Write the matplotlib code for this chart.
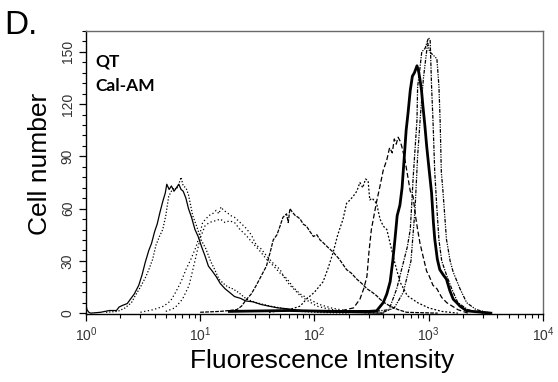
import matplotlib
matplotlib.use('Agg')
import matplotlib.pyplot as plt
from matplotlib.ticker import LogLocator, MultipleLocator, FixedLocator

# histogram curves (x = intensity, y = cell count)
x_neg = [1.0, 1.02, 1.06, 1.1, 1.35, 1.6, 1.85, 1.95, 2.1, 2.3, 2.45, 2.65, 2.9, 3.1, 3.3, 3.55, 3.75, 4.0,
         4.2, 4.45, 4.7, 4.95, 5.1, 5.35, 5.6, 5.9, 6.2, 6.5, 6.8, 7.1, 7.5, 7.9, 8.4, 9.0, 9.6, 10.3,
         11.0, 11.8, 12.8, 13.8, 15.0, 16.5, 18.0, 20.0, 22.5, 25, 29, 34, 40, 48, 58, 70, 85, 110, 150, 220, 400]
y_neg = [5, 2, 0.5, 0, 0.5, 1.5, 1.5, 3.5, 4.5, 5.5, 8, 11, 16, 22, 29, 36, 40, 47,
         51, 58, 64, 69, 74, 71, 73, 70, 72, 74, 71, 70, 66, 60, 55, 48, 44, 38,
         33, 27, 24, 21, 17, 14, 12, 9.5, 8.5, 7, 6.5, 5, 4, 3, 2.5, 1.8, 1.2, 0.8, 0.5, 0.3, 0]

x_dot1 = [1.5, 1.9, 2.2, 2.5, 2.7, 3.0, 3.35, 3.6, 3.84, 4.1, 4.4, 4.7, 5.0, 5.3, 5.6, 5.9, 6.2, 6.5, 6.8,
          7.1, 7.5, 7.9, 8.6, 9.3, 10.2, 11.2, 12.3, 13.4, 14.6, 16.0, 17.5, 19.2, 21.5, 25.5, 31, 41, 55, 75, 110, 200]
y_dot1 = [0.5, 1, 3, 6, 10, 15, 21, 26, 31, 39, 44, 48, 56, 67, 70, 72, 71, 74, 78,
          73, 72, 68, 56, 50, 42, 37, 30, 25, 19.5, 17, 15, 14, 12, 8, 6, 4, 2.5, 1, 0.4, 0]

x_dot2 = [3.0, 3.9, 4.8, 5.5, 6.1, 6.8, 7.5, 8.3, 9.2, 9.9, 10.5, 11.2, 11.9, 12.8, 13.8, 14.6, 15.2, 16.0,
          17.0, 18.5, 20, 22.4, 25, 28, 31, 34, 38, 43, 50, 55, 61, 68, 75, 88, 105, 130, 168, 250, 400]
y_dot2 = [0.5, 2, 4, 7, 12, 18, 25, 31, 38, 45, 52, 54, 56, 57, 59, 57, 61, 59,
          58, 56, 55, 52, 49, 45, 39, 37, 33, 29, 25, 20, 16, 13, 10, 7, 4, 2.5, 1.3, 0.5, 0]

x_dot3 = [5, 6, 7, 8, 9, 10, 11, 12, 13.5, 15, 16.5, 18, 20, 22.3, 25, 29, 33, 38, 44, 50, 57, 65, 75,
          90, 110, 140, 200, 300]
y_dot3 = [1, 3, 8, 16, 30, 43, 50, 52, 53, 54, 52, 53, 52, 48, 45, 40, 36, 31, 27, 23, 20, 15, 11,
          8, 5, 3, 1, 0]

x_mid = [10, 15, 18, 20.9, 23, 25.5, 28, 31, 34, 38, 41, 43.6, 47, 50, 53, 57, 59, 61, 64, 68, 72, 75, 80,
         85, 91, 98, 105, 112, 119, 130, 146, 165, 191, 210, 235, 260, 288, 320, 350, 375, 410, 460, 540,
         640, 800, 1200]
y_mid = [0.5, 1, 1.5, 2, 4, 8, 11, 16, 21, 27, 35, 42, 45, 50, 55, 57, 52, 60, 58, 56, 55, 54, 51,
         50, 47, 44, 45, 42, 40.5, 38, 35, 31, 25, 23, 19.5, 17, 14, 12, 10, 8, 6, 4, 2,
         0.5, 0.3, 0]

x_dot4 = [40, 60, 75, 85, 100, 119, 132, 146, 160, 178, 191, 205, 218, 235, 250, 265, 280, 295, 305, 320,
          350, 375, 400, 430, 460, 500, 560, 650, 800, 1000, 1300, 1800]
y_dot4 = [0.5, 2, 4, 8, 12, 18, 26, 35, 45, 54, 63, 65, 67, 70, 75, 72, 77, 76, 65, 66,
          63, 54, 50, 48, 40, 30, 18, 10, 6, 3, 1, 0]

x_dash = [150, 220, 250, 270, 288, 300, 315, 332, 350, 375, 400, 430, 455, 480, 500, 520, 540, 560, 580,
          620, 650, 690, 730, 770, 800, 840, 890, 960, 1000, 1090, 1180, 1300, 1440, 1800, 2200]
y_dash = [0.5, 3, 8, 14, 21, 35, 48, 56, 64, 73, 82, 88, 95, 92, 100, 97, 101, 99, 96,
          88, 80, 70, 67, 55, 48, 40, 33, 24, 22, 16, 14, 9, 6, 2, 0]

x_thick = [18, 60, 150, 300, 350, 400, 430, 460, 485, 507, 530, 560, 585, 615, 635, 660, 690, 720, 750, 790,
           815, 840, 865, 890, 925, 960, 1010, 1060, 1100, 1130, 1190, 1250, 1340, 1430, 1530, 1640, 1760,
           1880, 2150, 2600, 3500]
y_thick = [1, 1.5, 1, 1, 1.3, 6, 11, 18, 30, 42.5, 56, 62, 72, 92, 105, 115, 128, 136, 138, 142,
           139, 134, 128, 119, 108, 96, 82, 69, 52, 42.5, 31, 25, 22, 19.5, 13, 8, 6,
           4, 1.3, 0.8, 0]

x_dd1 = [300, 450, 525, 600, 650, 690, 710, 730, 770, 790, 800, 830, 870, 930, 995, 1030, 1060, 1090, 1130,
         1180, 1230, 1300, 1430, 1590, 1800, 2200, 3000]
y_dd1 = [0.5, 2, 14, 29, 38, 48, 62, 77, 100, 111, 130, 138, 150, 152, 158, 157, 130, 111, 81,
         60, 42, 30, 22, 14, 6, 2, 0]

x_dd2 = [400, 500, 600, 700, 760, 800, 850, 900, 950, 980, 1020, 1100, 1180, 1230, 1260, 1290, 1330, 1430,
         1540, 1640, 1880, 2150, 2600, 3500]
y_dd2 = [0.5, 3, 12, 30, 60, 90, 115, 135, 148, 155, 150, 148, 146, 130, 110, 81, 71, 42.5,
         30, 23.5, 14, 6, 2, 0]


def main():
    fig = plt.figure(figsize=(5.58, 3.82), dpi=100)
    ax = fig.add_axes([0.154, 0.178, 0.819, 0.741])

    k = 'black'
    ax.plot(x_neg, y_neg, color=k, lw=0.9)
    ax.plot(x_dot1, y_dot1, color=k, lw=0.9, ls=(0, (1, 1.5)))
    ax.plot(x_dot2, y_dot2, color=k, lw=0.9, ls=(0, (1, 2)))
    ax.plot(x_dot3, y_dot3, color=k, lw=0.9, ls=(0, (1, 2)))
    ax.plot(x_mid, y_mid, color=k, lw=0.9, ls=(0, (3, 1)))
    ax.plot(x_dot4, y_dot4, color=k, lw=0.9, ls=(0, (1.5, 1.5)))
    ax.plot(x_dash, y_dash, color=k, lw=0.9, ls=(0, (4, 2)))
    ax.plot(x_dd1, y_dd1, color=k, lw=0.9, ls=(0, (3, 1, 1, 1)))
    ax.plot(x_dd2, y_dd2, color=k, lw=0.9, ls=(0, (3, 1, 1, 1, 1, 1)))
    ax.plot(x_thick, y_thick, color=k, lw=2.0)

    ax.set_xscale('log')
    ax.set_xlim(1, 10000)
    ax.set_ylim(-0.5, 162)

    ax.xaxis.set_major_locator(LogLocator(base=10, numticks=10))
    ax.xaxis.set_minor_locator(LogLocator(base=10, subs=range(2, 10), numticks=20))
    ax.yaxis.set_major_locator(FixedLocator([0, 30, 60, 90, 120, 150]))
    ax.yaxis.set_minor_locator(MultipleLocator(6))

    for s in ['left', 'bottom']:
        ax.spines[s].set_color('black')
        ax.spines[s].set_linewidth(1.0)
    for s in ['top', 'right']:
        ax.spines[s].set_color('#6a6a6a')
        ax.spines[s].set_linewidth(1.0)

    ax.tick_params(which='major', length=5, width=0.9, direction='out',
                   labelsize=10, labelcolor='#333333')
    ax.tick_params(which='minor', length=3, width=0.8, direction='out')
    ax.tick_params(axis='y', which='major', pad=3)
    for lab in ax.get_yticklabels():
        lab.set_rotation(90)
        lab.set_va('center')
        lab.set_family('Liberation Sans')
    for lab in ax.get_xticklabels():
        lab.set_family('Liberation Sans')

    ax.set_xlabel('Fluorescence Intensity', fontsize=19, family='Liberation Sans')
    ax.set_ylabel('Cell number', fontsize=19, family='Liberation Sans')
    ax.xaxis.set_label_coords(0.517, -0.122)
    ax.yaxis.set_label_coords(-0.075, 0.53)

    ax.text(0.02, 0.92, 'QT', transform=ax.transAxes, fontsize=12.5, fontweight='bold',
            family='Lato', va='top')
    ax.text(0.02, 0.832, 'Cal-AM', transform=ax.transAxes, fontsize=12.5, fontweight='bold',
            family='Lato', va='top')
    fig.text(0.008, 0.975, 'D.', fontsize=24, family='Liberation Sans', va='top')

    fig.savefig('out.png', dpi=100)


if __name__ == '__main__':
    main()
